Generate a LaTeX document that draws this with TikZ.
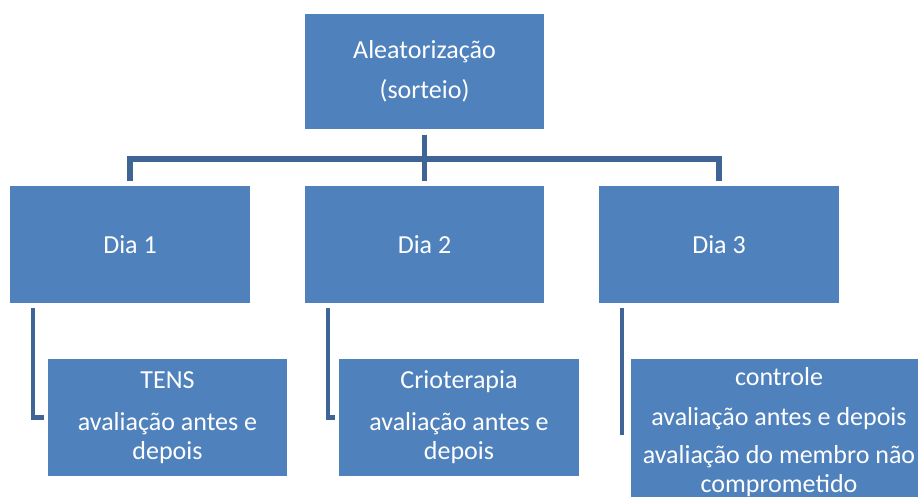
\documentclass[tikz,border=0pt]{standalone}
\usepackage{fontspec}
\setmainfont{Carlito}
\definecolor{boxblue}{HTML}{4F81BD}
\definecolor{connblue}{RGB}{63,100,150}
\tikzset{
  box/.style={fill=boxblue, draw=none, inner sep=0pt, outer sep=0pt, text=white, align=center, font=\fontsize{26}{29}\selectfont},
  conn/.style={draw=connblue, line width=5.5pt},
  subconn/.style={draw=connblue, line width=4.5pt, line cap=rect}
}
\begin{document}
\begin{tikzpicture}[x=1pt,y=-1pt]
\useasboundingbox (0,0) rectangle (918,497);
\clip (0,0) rectangle (918,497);
\node[box, minimum width=239pt, minimum height=115pt] (top) at (424.5,71.5) {Aleatorização\\[11pt](sorteio)};
\node[box, minimum width=240pt, minimum height=117pt] (d1) at (130,244.5) {Dia 1};
\node[box, minimum width=239pt, minimum height=117pt] (d2) at (424.5,244.5) {Dia 2};
\node[box, minimum width=240pt, minimum height=117pt] (d3) at (719,244.5) {Dia 3};
\node[box, minimum width=239pt, minimum height=117pt] (b1) at (167.5,417.5) {TENS\\[13pt]avaliação antes e\\depois};
\node[box, minimum width=240pt, minimum height=117pt] (b2) at (459,417.5) {Crioterapia\\[13pt]avaliação antes e\\depois};
\node[box, minimum width=296pt, minimum height=146pt] (b3) at (779,432) {controle\\[11pt]avaliação antes e depois\\[9pt]avaliação do membro não\\comprometido};
\coordinate (bus) at (424.5,159);
\draw[conn] ([yshift=-6pt]top.south) -- ([yshift=5pt]d2.north);
\draw[conn] ([yshift=5pt]d1.north) |- (bus) -| ([yshift=5pt]d3.north);
\draw[subconn, shorten >=6pt] ([xshift=23pt,yshift=-7pt]d1.south west) |- (b1.west);
\draw[subconn, shorten >=6pt] ([xshift=23pt,yshift=-7pt]d2.south west) |- (b2.west);
\draw[subconn] ([xshift=23pt,yshift=-7pt]d3.south west) -- ([xshift=23pt]d3.south west |- 0,433);
\end{tikzpicture}
\end{document}
